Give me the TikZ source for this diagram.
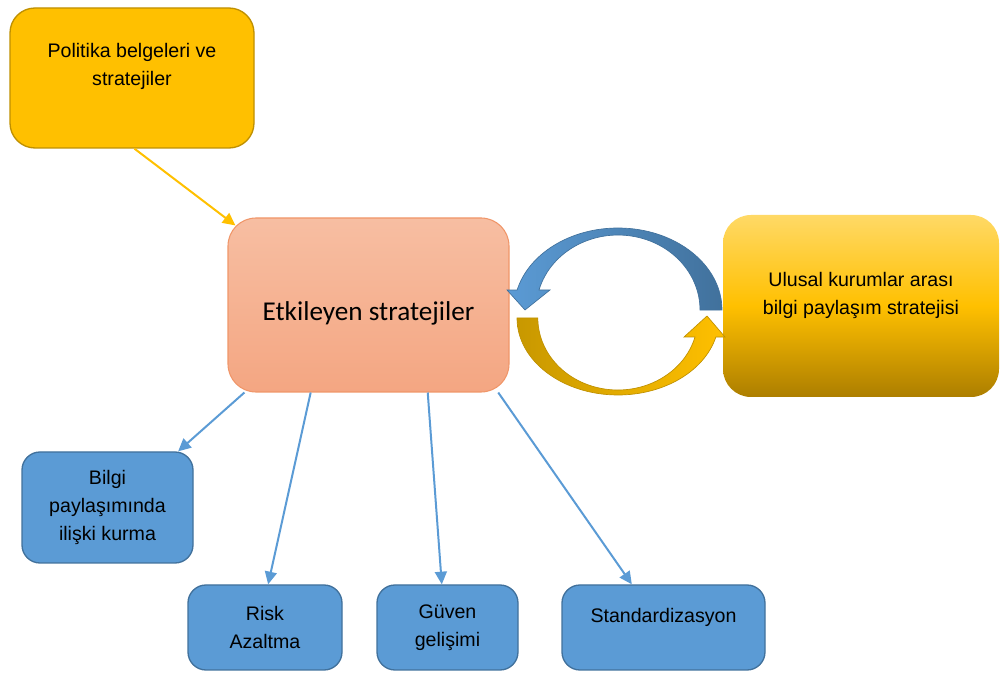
\documentclass[tikz,border=0pt]{standalone}
\usepackage{fontspec}
\setmainfont{Liberation Sans}
\newfontfamily\calibrifont{Carlito}
\usetikzlibrary{arrows.meta,calc}
\definecolor{bsGold}{RGB}{255,192,0}
\definecolor{bsGoldLine}{RGB}{191,144,0}
\definecolor{bsGoldDark}{RGB}{200,152,0}
\definecolor{bsGoldLight}{RGB}{255,217,102}
\definecolor{bsGoldBottom}{RGB}{172,126,0}
\definecolor{bsSalmonTop}{RGB}{247,190,162}
\definecolor{bsSalmonBot}{RGB}{244,166,130}
\definecolor{bsSalmonLine}{RGB}{240,150,105}
\definecolor{bsBlue}{RGB}{91,155,213}
\definecolor{bsBlueDark}{RGB}{65,113,156}

\begin{document}
\begin{tikzpicture}[x=0.75pt,y=-0.75pt,
  boxtext/.style={font=\fontsize{14.7}{21}\selectfont,align=center,text=black},
  bluebox/.style={boxtext,fill=bsBlue,draw=bsBlueDark,line width=1pt,rounded corners=13.5pt,minimum height=63.75pt},
  link/.style={draw=bsBlue,line width=1.5pt,-{Triangle[length=9.5pt,width=9pt]}}]
  \useasboundingbox (0,0) rectangle (1001,673);
  \node[fill=bsGold,draw=bsGoldLine,line width=1pt,rounded corners=18.75pt,minimum width=183pt,minimum height=105pt,
    label={[boxtext,yshift=9pt]center:{Politika belgeleri ve\\stratejiler}}] (politika) at (132,78) {};
  \node[top color=bsSalmonTop,bottom color=bsSalmonBot,draw=bsSalmonLine,line width=0.8pt,rounded corners=21pt,minimum width=210.75pt,minimum height=130.5pt,
    label={[font=\calibrifont\fontsize{20.4}{24}\selectfont,yshift=-6pt]center:Etkileyen stratejiler}] (etk) at (368.5,305) {};
  \node[top color=bsGoldLight,bottom color=bsGoldBottom,middle color=bsGold,rounded corners=21pt,minimum width=207pt,minimum height=136.5pt,
    label={[boxtext,yshift=8.25pt]center:{Ulusal kurumlar arası\\bilgi paylaşım stratejisi}}] (ulusal) at (861,306) {};
  \node[bluebox,minimum width=128.25pt,minimum height=83.25pt] (bilgi) at (107.5,507.5) {Bilgi\\paylaşımında\\ilişki kurma};
  \node[bluebox,minimum width=115.5pt] (risk) at (265,627.5) {Risk\\Azaltma};
  \node[bluebox,minimum width=105.75pt] (guven) at (447.5,627.5) {Güven\\gelişimi};
  \node[bluebox,minimum width=152.25pt,label={[boxtext,yshift=7.5pt]center:Standardizasyon}] (standard) at (663.5,627.5) {};

  \draw[draw=bsGold,line width=1.5pt,-{Triangle[length=9.5pt,width=9pt]}]
    ($(politika.south west)!0.51!(politika.south east)$) -- ($(etk.north west)+(8,8)$);
  \foreach \target/\from/\to in {bilgi/0.06/0.91,risk/0.295/0.52,guven/0.71/0.46,standard/0.96/0.345}
    \draw[link] ($(etk.south west)!\from!(etk.south east)$) -- ($(\target.north west)!\to!(\target.north east)$);

  \shadedraw[left color=bsBlue,right color=bsBlueDark,draw=bsBlueDark,line width=0.5pt]
    (722,310) arc[start angle=0,end angle=-165.9,x radius=104,y radius=82]
    -- (507,290) -- (525,310) -- (550,290) -- (539,290)
    arc[start angle=-164.5,end angle=0,x radius=82,y radius=75] -- cycle;
  \shadedraw[left color=bsGoldDark,right color=bsGold,draw=bsGoldLine,line width=0.5pt]
    (517,318) arc[start angle=180,end angle=14.3,x radius=101,y radius=77]
    -- (725,337) -- (707,316) -- (684,337) -- (695,337)
    arc[start angle=15.3,end angle=180,x radius=80,y radius=72] -- cycle;
\end{tikzpicture}
\end{document}
